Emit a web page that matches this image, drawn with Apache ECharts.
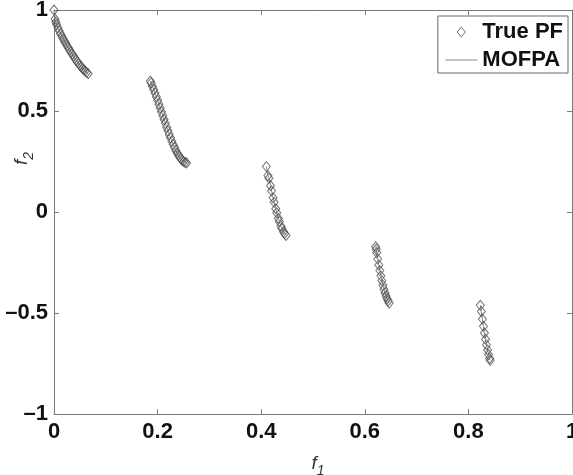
<!DOCTYPE html>
<html>
<head>
<meta charset="utf-8">
<script src="https://cdn.jsdelivr.net/npm/echarts@6/dist/echarts.min.js"></script>
<style>
  html, body { margin: 0; padding: 0; background: #fff; }
  #chart { width: 573px; height: 475px; }
</style>
</head>
<body>
<div id="chart"></div>
<script>
  // true PF points, one pair of arrays per segment
  var seg1F1 = [0, 0.002, 0.0035, 0.005, 0.0075, 0.01, 0.0125, 0.015, 0.0175, 0.02, 0.0225, 0.025, 0.0275, 0.03, 0.0325, 0.035, 0.0375, 0.04, 0.0425, 0.045, 0.0475, 0.05, 0.0525, 0.055, 0.0575, 0.06, 0.063, 0.066];
  var seg1F2 = [1, 0.955, 0.94, 0.928, 0.912, 0.897, 0.883, 0.871, 0.859, 0.847, 0.835, 0.824, 0.813, 0.803, 0.792, 0.782, 0.772, 0.762, 0.752, 0.743, 0.735, 0.726, 0.719, 0.711, 0.704, 0.698, 0.691, 0.685];

  var seg2F1 = [0.186, 0.1875, 0.19, 0.1925, 0.195, 0.1975, 0.2, 0.2025, 0.205, 0.2075, 0.21, 0.2125, 0.215, 0.2175, 0.22, 0.2225, 0.225, 0.2275, 0.23, 0.2325, 0.235, 0.2375, 0.24, 0.2425, 0.245, 0.2475, 0.25, 0.253, 0.256];
  var seg2F2 = [0.648, 0.639, 0.623, 0.606, 0.589, 0.571, 0.553, 0.534, 0.515, 0.496, 0.477, 0.458, 0.439, 0.42, 0.402, 0.384, 0.367, 0.35, 0.334, 0.32, 0.306, 0.293, 0.282, 0.272, 0.263, 0.256, 0.25, 0.245, 0.243];

  var seg3F1 = [0.41, 0.413, 0.415, 0.418, 0.42, 0.423, 0.425, 0.428, 0.43, 0.433, 0.435, 0.438, 0.44, 0.443, 0.445, 0.448];
  var seg3F2 = [0.225, 0.18, 0.167, 0.13, 0.105, 0.07, 0.048, 0.016, -0.004, -0.031, -0.047, -0.069, -0.082, -0.098, -0.107, -0.116];

  var seg4F1 = [0.621, 0.622, 0.623, 0.625, 0.627, 0.629, 0.631, 0.633, 0.635, 0.637, 0.639, 0.641, 0.643, 0.645, 0.647];
  var seg4F2 = [-0.172, -0.185, -0.201, -0.233, -0.262, -0.29, -0.316, -0.34, -0.363, -0.383, -0.401, -0.416, -0.429, -0.44, -0.451];

  var seg5F1 = [0.823, 0.825, 0.827, 0.829, 0.831, 0.833, 0.835, 0.837, 0.839, 0.841, 0.842];
  var seg5F2 = [-0.462, -0.492, -0.53, -0.566, -0.599, -0.63, -0.658, -0.683, -0.706, -0.725, -0.734];

  var xTicks = [0, 0.2, 0.4, 0.6, 0.8, 1];
  var yTicks = [-1, -0.5, 0, 0.5, 1];

  var segments = [
    [seg1F1, seg1F2],
    [seg2F1, seg2F2],
    [seg3F1, seg3F2],
    [seg4F1, seg4F2],
    [seg5F1, seg5F2]
  ];

  function pairs(xs, ys) {
    var out = [];
    for (var i = 0; i < xs.length; i++) out.push([xs[i], ys[i]]);
    return out;
  }

  var allPF = [];
  for (var s of segments) allPF = allPF.concat(pairs(s[0], s[1]));

  var fontFam = '"Liberation Sans", Arial, Helvetica, sans-serif';
  var axisGray = '#7a7a7a';

  function tickLabel(v) {
    return String(v).replace('-', '\u2013');
  }

  var series = [];
  // MOFPA: thin gray line along each segment
  for (var s of segments) {
    series.push({
      name: 'MOFPA',
      type: 'line',
      data: pairs(s[0], s[1]),
      symbol: 'none',
      lineStyle: { color: '#8a8a8a', width: 1 },
      itemStyle: { color: '#8a8a8a' },
      z: 3
    });
  }
  series.push({
    name: 'True PF',
    type: 'scatter',
    data: allPF,
    symbol: 'diamond',
    symbolSize: [8, 10],
    itemStyle: { color: 'rgba(255,255,255,0)', borderColor: '#505050', borderWidth: 1 },
    z: 4
  });

  var chart = echarts.init(document.getElementById('chart'));
  var option = {
    animation: false,
    backgroundColor: '#fff',
    grid: { left: 54, right: 1, top: 10, bottom: 61, containLabel: false, outerBoundsMode: 'none' },
    legend: {
      orient: 'vertical',
      right: 5,
      top: 16,
      padding: [5, 5, 2, 7],
      itemGap: 6,
      itemWidth: 32,
      itemHeight: 10,
      symbolKeepAspect: true,
      borderColor: '#6a6a6a',
      borderWidth: 1,
      backgroundColor: '#fff',
      textStyle: { fontFamily: fontFam, fontWeight: 'bold', fontSize: 22, color: '#111' },
      data: [
        { name: 'True PF', icon: 'path://M4,0L8,5L4,10L0,5Z', itemStyle: { color: 'rgba(255,255,255,0)', borderColor: '#5a5a5a', borderWidth: 1 } },
        { name: 'MOFPA', itemStyle: { color: 'rgba(0,0,0,0)', borderWidth: 0 }, lineStyle: { color: '#8a8a8a', width: 1 } }
      ]
    },
    xAxis: [{
      type: 'value',
      min: xTicks[0],
      max: xTicks[xTicks.length - 1],
      interval: 0.2,
      name: '{i|f}{s|1}',
      nameLocation: 'middle',
      nameGap: 36,
      nameTextStyle: {
        padding: [0, 0, 0, 10],
        rich: {
          i: { fontFamily: fontFam, fontStyle: 'italic', fontSize: 19, color: '#333' },
          s: { fontFamily: fontFam, fontStyle: 'italic', fontSize: 14, color: '#333', padding: [14, 0, 0, 0] }
        }
      },
      axisLine: { show: true, onZero: false, lineStyle: { color: axisGray, width: 1 } },
      axisTick: { inside: true, length: 5, lineStyle: { color: axisGray } },
      axisLabel: { formatter: tickLabel, margin: 7, fontFamily: fontFam, fontWeight: 'bold', fontSize: 22, color: '#111' },
      splitLine: { show: false }
    }, {
      type: 'value',
      position: 'top',
      min: xTicks[0],
      max: xTicks[xTicks.length - 1],
      interval: 0.2,
      axisLine: { show: true, onZero: false, lineStyle: { color: axisGray, width: 1 } },
      axisTick: { inside: true, length: 5, lineStyle: { color: axisGray } },
      axisLabel: { show: false },
      splitLine: { show: false }
    }],
    yAxis: [{
      type: 'value',
      min: yTicks[0],
      max: yTicks[yTicks.length - 1],
      interval: 0.5,
      axisLine: { show: true, onZero: false, lineStyle: { color: axisGray, width: 1 } },
      axisTick: { inside: true, length: 5, lineStyle: { color: axisGray } },
      axisLabel: { formatter: tickLabel, margin: 6, fontFamily: fontFam, fontWeight: 'bold', fontSize: 22, color: '#111' },
      splitLine: { show: false }
    }, {
      type: 'value',
      position: 'right',
      min: yTicks[0],
      max: yTicks[yTicks.length - 1],
      interval: 0.5,
      axisLine: { show: true, onZero: false, lineStyle: { color: axisGray, width: 1 } },
      axisTick: { inside: true, length: 5, lineStyle: { color: axisGray } },
      axisLabel: { show: false },
      splitLine: { show: false }
    }],
    graphic: [{
      type: 'text',
      x: 8,
      y: 165,
      rotation: Math.PI / 2,
      style: {
        text: '{i|f}{s|2}',
        rich: {
          i: { fontFamily: fontFam, fontStyle: 'italic', fontSize: 19, fill: '#333' },
          s: { fontFamily: fontFam, fontStyle: 'italic', fontSize: 14, fill: '#333', padding: [14, 0, 0, 0] }
        }
      }
    }],
    series: series
  };
  chart.setOption(option, true);
  window.addEventListener('resize', function () {
    chart.resize();
  });
</script>
</body>
</html>
